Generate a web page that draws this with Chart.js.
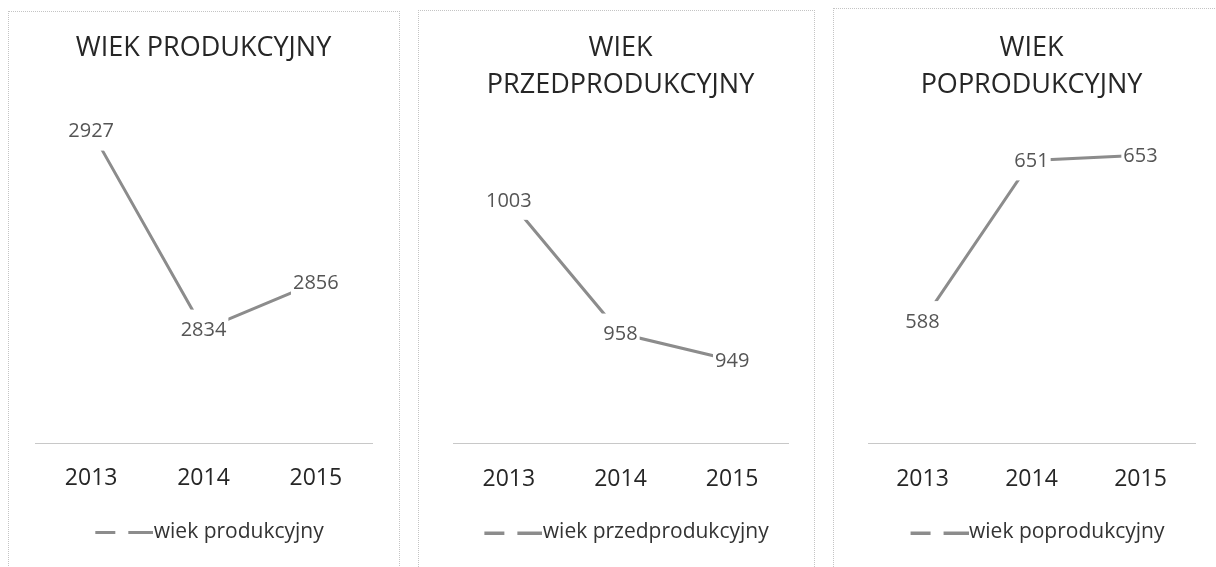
<!DOCTYPE html>
<html>
<head>
<meta charset="utf-8">
<script src="https://cdn.jsdelivr.net/npm/chart.js@4/dist/chart.umd.min.js"></script>
<style>
    html, body { margin: 0; padding: 0; background: #fff; }
    body { width: 1216px; height: 567px; position: relative; overflow: hidden; }
    .frame { position: absolute; border: 1px dotted #c4c4c4; border-bottom: none; }
    canvas { position: absolute; }
</style>
</head>
<body>
<div class="frame" style="left:8px;top:11px;width:390px;height:600px"></div>
<div class="frame" style="left:418px;top:10px;width:395px;height:600px"></div>
<div class="frame" style="left:833px;top:8px;width:400px;height:600px"></div>
<canvas id="chart-prod" width="391" height="556" style="left:8px;top:11px"></canvas>
<canvas id="chart-przed" width="396" height="557" style="left:418px;top:10px"></canvas>
<canvas id="chart-po" width="383" height="559" style="left:833px;top:8px"></canvas>
<script>
    const years = ['2013', '2014', '2015'];

    const produkcyjny = [2927, 2834, 2856];
    const przedprodukcyjny = [1003, 958, 949];
    const poprodukcyjny = [588, 651, 653];

    const FONT = '"Open Sans", "DejaVu Sans", sans-serif';
    const LINE_COLOR = '#8c8c8c';

    /**
     * Legend mark: short line, gap, line running into the text
     */
    function legendMark() {
        const c = document.createElement('canvas');
        c.width = 80;
        c.height = 4;
        const g = c.getContext('2d');
        g.fillStyle = LINE_COLOR;
        g.fillRect(22, 1, 20, 3);
        g.fillRect(55, 1, 25, 3);
        return c;
    }

    /**
     * Value labels on a white box, centred on each point
     */
    const boxLabels = {
        id: 'boxLabels',
        afterDatasetsDraw(chart) {
            const ctx = chart.ctx;
            const meta = chart.getDatasetMeta(0);
            const values = chart.data.datasets[0].data;
            ctx.save();
            ctx.font = '20px ' + FONT;
            ctx.textAlign = 'center';
            ctx.textBaseline = 'middle';
            meta.data.forEach((pt, i) => {
                const txt = String(values[i]);
                const w = ctx.measureText(txt).width + 4;
                ctx.fillStyle = '#fff';
                ctx.fillRect(pt.x - w / 2, pt.y - 20, w, 40);
                ctx.fillStyle = '#555';
                ctx.fillText(txt, pt.x, pt.y + 1);
            });
            ctx.restore();
        }
    };

    function makeChart(id, cfg) {
        const ctx = document.getElementById(id).getContext('2d');
        return new Chart(ctx, {
            type: 'line',
            data: {
                labels: years,
                datasets: [{
                    label: cfg.name,
                    data: cfg.values,
                    borderColor: LINE_COLOR,
                    backgroundColor: LINE_COLOR,
                    borderWidth: 3,
                    pointRadius: 0,
                    tension: 0,
                }]
            },
            options: {
                responsive: false,
                animation: false,
                devicePixelRatio: 1,
                layout: {
                    padding: { left: cfg.padLeft, right: cfg.padRight, top: 0, bottom: cfg.padBottom }
                },
                plugins: {
                    title: {
                        display: true,
                        text: cfg.title,
                        color: '#262626',
                        font: { family: FONT, size: 27, weight: 'normal', lineHeight: 1.4 },
                        padding: { top: cfg.titleTop, bottom: cfg.titleBottom }
                    },
                    legend: {
                        display: true,
                        position: 'bottom',
                        labels: {
                            usePointStyle: true,
                            pointStyle: legendMark(),
                            pointStyleWidth: 60,
                            color: '#333',
                            font: { family: FONT, size: 21 }
                        }
                    },
                    tooltip: { enabled: false }
                },
                scales: {
                    x: {
                        offset: true,
                        grid: { display: false, drawTicks: false },
                        border: { display: true, color: '#c8c8c8', width: 1, dash: [1, 2] },
                        ticks: {
                            color: '#262626',
                            padding: 22,
                            font: { family: FONT, size: 23 }
                        },
                        afterFit: (scale) => { scale.height = 68.5; }
                    },
                    y: {
                        display: false,
                        min: cfg.min,
                        max: cfg.max
                    }
                }
            },
            plugins: [boxLabels]
        });
    }

    makeChart('chart-prod', {
        name: 'wiek produkcyjny',
        title: 'WIEK PRODUKCYJNY',
        values: produkcyjny,
        min: 2781, max: 2940,
        padLeft: 27, padRight: 27, padBottom: 14.5,
        titleTop: 18, titleBottom: 36
    });

    makeChart('chart-przed', {
        name: 'wiek przedprodukcyjny',
        title: ['WIEK', 'PRZEDPRODUKCYJNY'],
        values: przedprodukcyjny,
        min: 921, max: 1030,
        padLeft: 35, padRight: 26, padBottom: 14,
        titleTop: 19, titleBottom: 15
    });

    makeChart('chart-po', {
        name: 'wiek poprodukcyjny',
        title: ['WIEK', 'POPRODUKCYJNY'],
        values: poprodukcyjny,
        min: 540, max: 667,
        padLeft: 35, padRight: 21, padBottom: 14,
        titleTop: 21, titleBottom: 15
    });
</script>
</body>
</html>
